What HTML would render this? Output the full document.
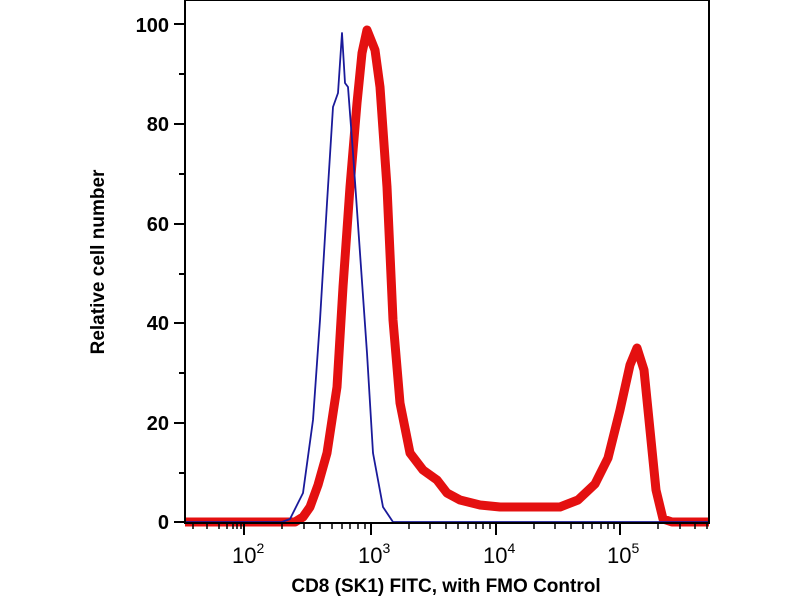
<!DOCTYPE html>
<html><head><style>body{margin:0;background:#fff}svg{display:block}</style></head><body>
<svg width="800" height="600" xmlns="http://www.w3.org/2000/svg" font-family="Liberation Sans, sans-serif" font-weight="bold">
<rect width="800" height="600" fill="#fff"/>
<path d="M185,522 L295,522 L303,517 L310,507 L318,485 L327,453 L337,387 L343,287 L350,187 L357,103 L362,53 L367,30 L375,50 L380,87 L387,187 L393,320 L400,403 L410,453 L423,470 L437,480 L447,493 L460,500 L480,505 L500,507 L560,507 L578,500 L595,484 L608,458 L620,410 L630,365 L637,348 L644,370 L650,430 L656,490 L663,519 L672,522 L709,522" fill="none" stroke="#e41010" stroke-width="9" stroke-linejoin="round"/>
<path d="M185,522 L282,522 L290,519 L303,493 L313,420 L320,320 L327,203 L333,107 L338,93 L342,33 L345,83 L348,87 L353,153 L360,253 L367,353 L373,453 L383,507 L393,522 L709,522" fill="none" stroke="#1a1a9a" stroke-width="1.8" stroke-linejoin="round"/>
<path d="M185,0 L185,523 L709,523 L709,0 Z" fill="none" stroke="#000" stroke-width="2"/>
<g stroke="#000" stroke-width="2">
<line x1="174" y1="24" x2="185" y2="24"/><line x1="174" y1="124" x2="185" y2="124"/><line x1="174" y1="224" x2="185" y2="224"/><line x1="174" y1="323" x2="185" y2="323"/><line x1="174" y1="423" x2="185" y2="423"/><line x1="174" y1="522" x2="185" y2="522"/>
<line x1="179" y1="74" x2="185" y2="74"/><line x1="179" y1="174" x2="185" y2="174"/><line x1="179" y1="274" x2="185" y2="274"/><line x1="179" y1="373" x2="185" y2="373"/><line x1="179" y1="473" x2="185" y2="473"/>
<line x1="244" y1="523" x2="244" y2="535"/><line x1="371" y1="523" x2="371" y2="535"/><line x1="496" y1="523" x2="496" y2="535"/><line x1="620" y1="523" x2="620" y2="535"/>
</g>
<g stroke="#000" stroke-width="1.5">
<line x1="193" y1="523" x2="193" y2="529"/><line x1="207" y1="523" x2="207" y2="529"/><line x1="219" y1="523" x2="219" y2="529"/><line x1="227" y1="523" x2="227" y2="529"/><line x1="233" y1="523" x2="233" y2="529"/><line x1="237" y1="523" x2="237" y2="529"/><line x1="241" y1="523" x2="241" y2="529"/>
<line x1="282" y1="523" x2="282" y2="529"/><line x1="304" y1="523" x2="304" y2="529"/><line x1="320" y1="523" x2="320" y2="529"/><line x1="332" y1="523" x2="332" y2="529"/><line x1="342" y1="523" x2="342" y2="529"/><line x1="350" y1="523" x2="350" y2="529"/><line x1="358" y1="523" x2="358" y2="529"/><line x1="365" y1="523" x2="365" y2="529"/>
<line x1="409" y1="523" x2="409" y2="529"/><line x1="430" y1="523" x2="430" y2="529"/><line x1="446" y1="523" x2="446" y2="529"/><line x1="458" y1="523" x2="458" y2="529"/><line x1="468" y1="523" x2="468" y2="529"/><line x1="476" y1="523" x2="476" y2="529"/><line x1="483" y1="523" x2="483" y2="529"/><line x1="490" y1="523" x2="490" y2="529"/>
<line x1="534" y1="523" x2="534" y2="529"/><line x1="555" y1="523" x2="555" y2="529"/><line x1="571" y1="523" x2="571" y2="529"/><line x1="583" y1="523" x2="583" y2="529"/><line x1="592" y1="523" x2="592" y2="529"/><line x1="601" y1="523" x2="601" y2="529"/><line x1="608" y1="523" x2="608" y2="529"/><line x1="614" y1="523" x2="614" y2="529"/>
<line x1="658" y1="523" x2="658" y2="529"/><line x1="680" y1="523" x2="680" y2="529"/><line x1="695" y1="523" x2="695" y2="529"/><line x1="707" y1="523" x2="707" y2="529"/>
</g>
<g font-size="20" text-anchor="end" fill="#000">
<text x="169" y="32">100</text><text x="169" y="131">80</text><text x="169" y="231">60</text><text x="169" y="330">40</text><text x="169" y="430">20</text><text x="169" y="529">0</text>
</g>
<g font-size="22" fill="#000" font-weight="normal">
<text x="232" y="563">10<tspan font-size="14" dy="-10">2</tspan></text>
<text x="358" y="563">10<tspan font-size="14" dy="-10">3</tspan></text>
<text x="483" y="563">10<tspan font-size="14" dy="-10">4</tspan></text>
<text x="607" y="563">10<tspan font-size="14" dy="-10">5</tspan></text>
</g>
<text x="446" y="592" font-size="19" text-anchor="middle">CD8 (SK1) FITC, with FMO Control</text>
<text transform="translate(104,262) rotate(-90)" font-size="19" text-anchor="middle">Relative cell number</text>
</svg>
</body></html>
